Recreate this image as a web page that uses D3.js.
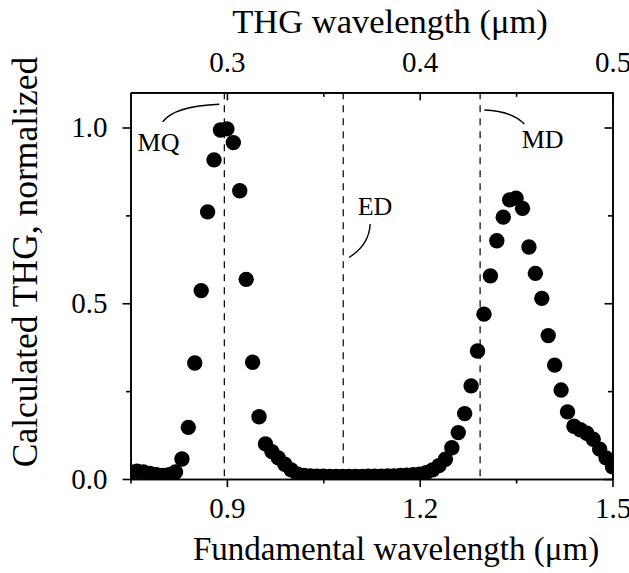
<!DOCTYPE html>
<html>
<head>
<meta charset="utf-8">
<script src="https://cdn.jsdelivr.net/npm/d3@7"></script>
<style>
  body { margin: 0; background: #fff; }
  text { font-family: "Times New Roman", "Liberation Serif", serif; fill: #000; }
  .axis path, .axis line { stroke: #000; stroke-width: 1.6; }
  .axis text { font-size: 29px; }
</style>
</head>
<body>
<script>
// fundamental wavelength (um)
var wavelength = [0.75, 0.76, 0.77, 0.78, 0.79, 0.80, 0.81, 0.82, 0.83, 0.84,
  0.85, 0.86, 0.87, 0.88, 0.89, 0.90, 0.91, 0.92, 0.93, 0.94,
  0.95, 0.96, 0.97, 0.98, 0.99, 1.00, 1.01, 1.02, 1.03, 1.04,
  1.05, 1.06, 1.07, 1.08, 1.09, 1.10, 1.11, 1.12, 1.13, 1.14,
  1.15, 1.16, 1.17, 1.18, 1.19, 1.20, 1.21, 1.22, 1.23, 1.24,
  1.25, 1.26, 1.27, 1.28, 1.29, 1.30, 1.31, 1.32, 1.33, 1.34,
  1.35, 1.36, 1.37, 1.38, 1.39, 1.40, 1.41, 1.42, 1.43, 1.44,
  1.45, 1.46, 1.47, 1.48, 1.49, 1.50];
// calculated THG, normalized
var thg = [0.020, 0.022, 0.020, 0.016, 0.012, 0.010, 0.012, 0.020, 0.057, 0.147,
  0.330, 0.536, 0.760, 0.908, 0.993, 0.996, 0.957, 0.820, 0.568, 0.332,
  0.177, 0.100, 0.078, 0.060, 0.042, 0.026, 0.014, 0.010, 0.009, 0.008,
  0.008, 0.007, 0.007, 0.007, 0.007, 0.007, 0.007, 0.008, 0.008, 0.008,
  0.009, 0.009, 0.010, 0.011, 0.012, 0.014, 0.018, 0.026, 0.038, 0.056,
  0.089, 0.132, 0.186, 0.265, 0.364, 0.469, 0.578, 0.678, 0.745, 0.794,
  0.799, 0.770, 0.660, 0.585, 0.514, 0.408, 0.324, 0.253, 0.191, 0.150,
  0.140, 0.130, 0.113, 0.085, 0.060, 0.035];

var bottomTicks = [0.9, 1.2, 1.5];
var bottomMinor = [0.75, 1.05, 1.35];
var topTicks = [0.3, 0.4, 0.5];
var topMinor = [0.35, 0.45];
var leftTicks = [0.0, 0.5, 1.0];
var leftMinor = [0.25, 0.75];

// resonances (fundamental wavelength) and their labels
var resonances = [0.896, 1.081, 1.294];
var labelNames = ["MQ", "ED", "MD"];
var labelPos = [[0.761, 0.933], [1.1035, 0.751], [1.3587, 0.941]];
var leaders = [
  [[0.800, 1.0165], [0.8192, 1.061], [0.8882, 1.066]],
  [[1.1229, 0.7255], [1.1213, 0.6657], [1.0902, 0.6307]],
  [[1.3005, 1.0498], [1.3436, 1.047], [1.3627, 1.0099]]
];

var width = 629, height = 573;
var mLeft = 130.5, mRight = 612.5, mTop = 92.35, mBottom = 479;

var svg = d3.select("body").append("svg")
    .attr("width", width)
    .attr("height", height);

var x = d3.scaleLinear().domain([0.75, 1.5]).range([mLeft, mRight]);
var xTop = d3.scaleLinear().domain([0.25, 0.5]).range([mLeft, mRight]);
var y = d3.scaleLinear().domain([0, 1.1]).range([mBottom, mTop]);

svg.append("clipPath").attr("id", "plotclip")
  .append("rect")
    .attr("x", mLeft).attr("y", mTop)
    .attr("width", mRight - mLeft).attr("height", mBottom - mTop);

//dashed resonance lines
svg.selectAll(".res")
    .data(resonances)
  .enter().append("line")
    .attr("class", "res")
    .attr("x1", function(d){ return x(d); })
    .attr("x2", function(d){ return x(d); })
    .attr("y1", y(1.1))
    .attr("y2", y(0))
    .attr("stroke", "#000")
    .attr("stroke-width", 1.2)
    .attr("stroke-dasharray", "7,6");

//data points
svg.append("g")
    .attr("clip-path", "url(#plotclip)")
  .selectAll("circle")
    .data(wavelength)
  .enter().append("circle")
    .attr("cx", function(d){ return x(d); })
    .attr("cy", function(d, i){ return y(thg[i]); })
    .attr("r", 7.7)
    .attr("fill", "#000");

//labels and leader curves
svg.selectAll(".lab")
    .data(labelNames)
  .enter().append("text")
    .attr("class", "lab")
    .attr("x", function(d, i){ return x(labelPos[i][0]); })
    .attr("y", function(d, i){ return y(labelPos[i][1]); })
    .style("font-size", "26px")
    .text(function(d){ return d; });

svg.selectAll(".leader")
    .data(leaders)
  .enter().append("path")
    .attr("class", "leader")
    .attr("d", function(p){
      return "M" + x(p[0][0]) + "," + y(p[0][1]) +
        "Q" + x(p[1][0]) + "," + y(p[1][1]) + " " + x(p[2][0]) + "," + y(p[2][1]);
    })
    .attr("fill", "none")
    .attr("stroke", "#000")
    .attr("stroke-width", 1.4);

//axes
var fmt = d3.format(".1f");

svg.append("g").attr("class", "axis")
    .attr("transform", "translate(0," + mBottom + ")")
    .call(d3.axisBottom(x).tickValues(bottomTicks).tickFormat(fmt).tickSizeInner(8).tickSizeOuter(0).tickPadding(10));
svg.append("g").attr("class", "axis")
    .attr("transform", "translate(0," + mBottom + ")")
    .call(d3.axisBottom(x).tickValues(bottomMinor).tickFormat("").tickSizeInner(4.5).tickSizeOuter(0));

svg.append("g").attr("class", "axis")
    .attr("transform", "translate(" + mLeft + ",0)")
    .call(d3.axisLeft(y).tickValues(leftTicks).tickFormat(fmt).tickSizeInner(8).tickSizeOuter(0).tickPadding(15));
svg.append("g").attr("class", "axis")
    .attr("transform", "translate(" + mLeft + ",0)")
    .call(d3.axisLeft(y).tickValues(leftMinor).tickFormat("").tickSizeInner(4.5).tickSizeOuter(0));

svg.append("g").attr("class", "axis")
    .attr("transform", "translate(0," + mTop + ")")
    .call(d3.axisTop(xTop).tickValues(topTicks).tickFormat(fmt).tickSizeInner(-8).tickSizeOuter(0).tickPadding(20));
svg.append("g").attr("class", "axis")
    .attr("transform", "translate(0," + mTop + ")")
    .call(d3.axisTop(xTop).tickValues(topMinor).tickFormat("").tickSizeInner(-4.5).tickSizeOuter(0));

svg.append("g").attr("class", "axis")
    .attr("transform", "translate(" + mRight + ",0)")
    .call(d3.axisRight(y).tickValues(leftTicks).tickFormat("").tickSizeInner(-8).tickSizeOuter(0));
svg.append("g").attr("class", "axis")
    .attr("transform", "translate(" + mRight + ",0)")
    .call(d3.axisRight(y).tickValues(leftMinor).tickFormat("").tickSizeInner(-4.5).tickSizeOuter(0));

//axis titles
svg.append("text")
    .attr("x", 390).attr("y", 33)
    .attr("text-anchor", "middle")
    .style("font-size", "34.5px")
    .text("THG wavelength (\u03bcm)");

svg.append("text")
    .attr("x", 396).attr("y", 560)
    .attr("text-anchor", "middle")
    .style("font-size", "33px")
    .text("Fundamental wavelength (\u03bcm)");

svg.append("text")
    .attr("transform", "translate(37,262) rotate(-90)")
    .attr("text-anchor", "middle")
    .style("font-size", "35.5px")
    .text("Calculated THG, normalized");
</script>
</body>
</html>
